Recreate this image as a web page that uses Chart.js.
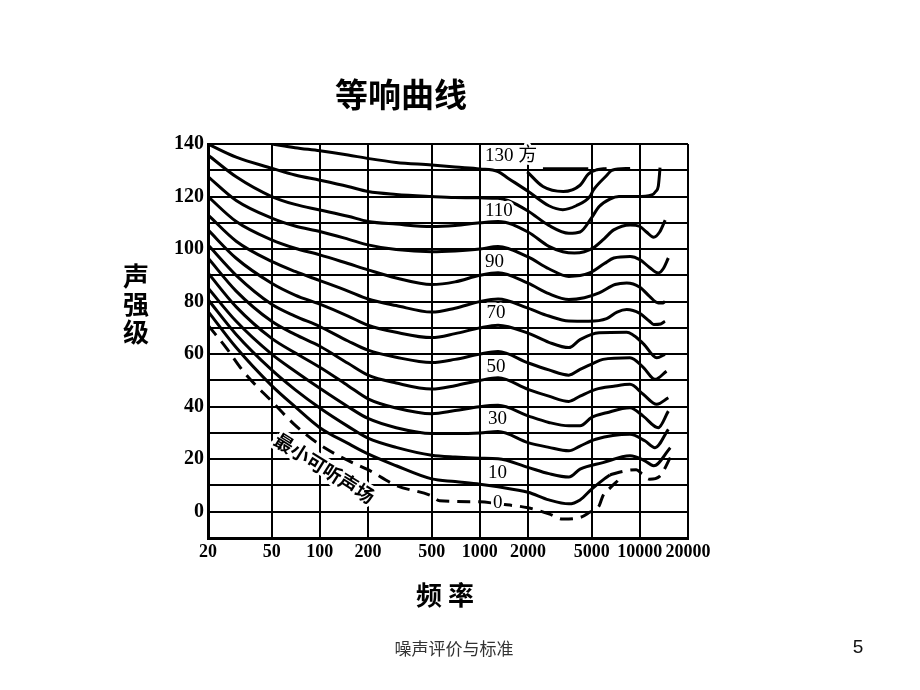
<!DOCTYPE html>
<html>
<head>
<meta charset="utf-8">
<script src="https://cdn.jsdelivr.net/npm/chart.js@4.4.1/dist/chart.umd.min.js"></script>
<style>
  body{margin:0;background:#fff;width:920px;height:690px;position:relative;overflow:hidden;}
  #box{position:absolute;left:0;top:0;width:920px;height:690px;}
  .txt{position:absolute;color:#000;white-space:nowrap;font-family:"Noto Sans CJK SC",sans-serif;transform:translate(-50%,-50%);}
  #titulo{left:401px;top:93px;font-size:33px;font-weight:bold;}
  #eixoY{left:136px;top:303px;font-size:26px;font-weight:bold;line-height:28px;text-align:center;}
  #eixoX{left:448px;top:593px;font-size:26px;font-weight:bold;letter-spacing:6px;}
  #rodape{left:454px;top:647px;font-size:17px;color:#333;}
  #pagina{left:858px;top:647px;font-size:19px;font-family:"Liberation Sans",sans-serif;color:#111;}
</style>
</head>
<body>
<div id="box"><canvas id="grafico" width="920" height="690"></canvas></div>
<div class="txt" id="titulo">等响曲线</div>
<div class="txt" id="eixoY">声<br>强<br>级</div>
<div class="txt" id="eixoX">频率</div>
<div class="txt" id="rodape">噪声评价与标准</div>
<div class="txt" id="pagina">5</div>

<script>
// ===== EIXOS =====
const xTicks = [20, 50, 100, 200, 500, 1000, 2000, 5000, 10000, 20000];
const yMin = -10, yMax = 140, yStep = 10;

// ===== CURVAS (frequência Hz / nível dB) =====
const fTop  = [1980, 2480, 3320, 4230, 4760, 5400, 6200];
const dbTop = [129.4, 123.8, 121.9, 124.3, 128.5, 130.2, 130.7];

const fLead  = [2480, 4760];
const dbLead = [130.8, 130.8];

const f130  = [50, 70, 100, 150, 200, 300, 500, 700, 1000, 1300, 1500, 2000, 2700, 3300, 4000, 4870, 5130, 6200, 6700, 8700];
const db130 = [140, 138.6, 137.4, 135.8, 134.5, 133, 132, 131.2, 130.5, 129.5, 127, 122, 116.5, 115, 116.5, 120, 122.5, 128, 130, 130.7];

const f120  = [20, 30, 50, 70, 100, 150, 200, 300, 500, 700, 1000, 1300, 1500, 2000, 2700, 3600, 4230, 5000, 5570, 6500, 7400, 9550, 11860, 12600, 13050, 13250, 13370];
const db120 = [140, 135, 130.8, 128.2, 126.2, 123.8, 121.9, 120.8, 120, 119.6, 119.5, 119.3, 118.5, 114.5, 109, 106, 106.5, 112, 116.2, 119, 120, 120, 120.6, 122, 124, 128, 131];

const f110  = [20, 30, 50, 70, 100, 150, 200, 300, 500, 700, 1000, 1300, 2000, 2700, 3300, 3900, 4500, 5130, 6000, 6870, 8700, 10000, 11000, 12200, 13300, 14400];
const db110 = [135.8, 127.5, 120, 117, 114.9, 112.5, 110.5, 109.5, 108.6, 109, 110, 110.5, 106.5, 101, 99, 98.5, 99, 100.5, 104, 107.3, 109.2, 108.6, 106.5, 104.5, 106.5, 111];

const f100  = [20, 30, 50, 70, 100, 150, 200, 300, 500, 700, 1000, 1300, 2000, 2700, 3600, 4850, 6000, 6870, 8700, 10000, 11500, 13040, 14000, 15070];
const db100 = [127.6, 118.5, 111.8, 108.8, 106.7, 103.8, 101.6, 99.8, 99, 99.3, 100, 101, 97, 92.5, 89.6, 90.9, 94.5, 96.6, 97.2, 96, 93, 90.9, 92.5, 96.6];

const f90  = [20, 30, 50, 70, 100, 150, 200, 300, 500, 700, 1000, 1300, 2000, 2700, 3600, 4500, 5570, 7000, 8280, 10000, 11500, 13040, 14000, 14360];
const db90 = [120, 110.5, 103.5, 100.3, 97.8, 94.5, 92.1, 89, 86.5, 87.5, 90, 91, 87, 83, 80.8, 81.5, 83.3, 86.5, 87.1, 85.5, 82, 79.5, 79.5, 80.1];

const f80  = [20, 30, 50, 70, 100, 150, 200, 300, 500, 700, 1000, 1300, 2000, 2700, 3600, 4800, 6200, 7200, 8280, 10000, 11500, 12200, 13500, 14360];
const db80 = [113, 103, 95.3, 91.5, 88, 84, 81, 78.5, 76, 77.5, 80, 81, 77.5, 74.5, 72.6, 72.5, 73.5, 76, 77, 75.5, 72.5, 71.3, 71.5, 72.5];

const f70  = [20, 30, 50, 70, 100, 150, 200, 300, 500, 700, 1000, 1300, 2000, 2700, 3600, 4230, 5570, 8280, 10500, 12750, 14360];
const db70 = [107.3, 96.5, 87, 82.5, 79, 74.5, 71, 68.3, 66.3, 67.8, 70, 71, 68, 64.5, 62.5, 65.5, 68.1, 68.3, 64, 58.6, 59.9];

const f60  = [20, 30, 50, 70, 100, 150, 200, 300, 500, 700, 1000, 1300, 2000, 2700, 3600, 4230, 5000, 5880, 8680, 10500, 12440, 14680];
const db60 = [101.6, 90, 79, 74.5, 70.5, 65, 61.5, 58.8, 56.8, 58, 60, 61, 56.7, 54, 52, 54.2, 56.2, 58, 58.6, 55, 50.4, 53.5];

const f50  = [20, 30, 50, 70, 100, 150, 200, 300, 500, 700, 1000, 1300, 2000, 2700, 3600, 4230, 5300, 6870, 8680, 10500, 12750, 15070];
const db50 = [96.6, 84, 72.5, 67.5, 63, 56.5, 52, 49, 46.7, 48, 50, 51, 46.6, 44, 42, 44, 46.6, 47.8, 48.5, 44.7, 40.9, 43.4];

const f40  = [20, 30, 50, 70, 100, 150, 200, 300, 500, 700, 1000, 1300, 2000, 2700, 3600, 4230, 5000, 6200, 8680, 10500, 13040, 15070];
const db40 = [90.9, 78, 66, 60.5, 55, 48, 43, 39.5, 37.3, 38.5, 40, 40.5, 36.5, 34, 32.7, 32.7, 35.9, 37.7, 39.6, 36.4, 32, 38.3];

const f30  = [20, 30, 50, 70, 100, 150, 200, 300, 500, 700, 1000, 1300, 2000, 2700, 3600, 4230, 5300, 8680, 10750, 12440, 15070];
const db30 = [85.2, 72.5, 60, 53.5, 47, 40, 35.5, 32, 29.8, 29.8, 30, 30.5, 26.3, 24.5, 23.2, 25, 27.6, 29.5, 27, 24.4, 31.4];

const f20  = [20, 30, 50, 70, 100, 150, 200, 300, 500, 700, 1000, 1300, 2000, 2700, 3600, 4230, 5880, 8680, 10750, 12200, 15500];
const db20 = [80.8, 67.5, 54, 46.5, 39.5, 32.5, 28, 24.5, 21.5, 20.8, 20.4, 20.2, 16.9, 14.5, 13.2, 16.2, 18.7, 21.3, 19.4, 17.5, 24.4];

const f10  = [20, 30, 50, 70, 100, 150, 200, 300, 500, 700, 1000, 1300, 2000, 2700, 3600, 4230, 5000, 6000, 6500];
const db10 = [76.3, 62.5, 48, 40, 32, 26, 22, 17.5, 12.5, 11.5, 10.5, 9.5, 7.4, 4.5, 3, 4.5, 8.6, 12.5, 14];

const f10b  = [6500, 8000, 9500, 10300, 11500, 13300, 15500];
const db10b = [14, 15.5, 16, 14.5, 12.4, 13.5, 20.6];

const f0  = [20, 26, 32.5, 40, 47.6, 70, 100, 150, 200, 300, 500, 560, 1000, 1300, 2000, 2700, 3300, 4230, 4850, 5570, 5880, 6500, 7270];
const db0 = [71, 62.4, 54.2, 48, 43.4, 33, 25.5, 19.5, 16, 10, 6, 4.2, 3.8, 3, 1.5, -0.8, -2.8, -2.2, -0.2, 2.3, 6.1, 9, 11.8];

const solidas = [
  [fTop, dbTop], [f130, db130], [f120, db120], [f110, db110], [f100, db100],
  [f90, db90], [f80, db80], [f70, db70], [f60, db60], [f50, db50],
  [f40, db40], [f30, db30], [f20, db20], [f10, db10]
];
const tracejadas = [[f0, db0], [f10b, db10b]];

// ===== ROTULOS DAS CURVAS =====
const rotTexto = ["130 方", "110", "90", "70", "50", "30", "10", "0"];
const rotFreq  = [1077, 1077, 1077, 1100, 1100, 1125, 1125, 1209];
const rotDb    = [135.5, 114.5, 95, 75.6, 55.1, 35.2, 14.7, 3.3];

const limiar = "最小可听声场";
const limiarFreq = 107, limiarDb = 16.6, limiarAng = 32;

function pontos(fs, dbs){
  return fs.map((f, i) => ({x: f, y: dbs[i]}));
}

const datasets = [];
solidas.forEach(([fs, dbs]) => datasets.push({
  data: pontos(fs, dbs), showLine: true, borderColor: "#000", borderWidth: 3,
  pointRadius: 0, cubicInterpolationMode: "monotone", fill: false
}));
tracejadas.forEach(([fs, dbs]) => datasets.push({
  data: pontos(fs, dbs), showLine: true, borderColor: "#000", borderWidth: 3,
  borderDash: [13, 8], pointRadius: 0, cubicInterpolationMode: "monotone", fill: false
}));
datasets.push({
  data: pontos(fLead, dbLead), showLine: true, borderColor: "#000", borderWidth: 2,
  pointRadius: 0, tension: 0, fill: false
});

// ===== TEXTO SOBRE O GRAFICO =====
const textoCurvas = {
  id: "textoCurvas",
  afterDatasetsDraw(chart){
    const ctx = chart.ctx, x = chart.scales.x, y = chart.scales.y;
    ctx.save();
    ctx.font = '19px "Liberation Serif", "Noto Sans CJK SC", serif';
    ctx.textAlign = "left";
    ctx.textBaseline = "middle";
    ctx.lineJoin = "round";
    rotTexto.forEach((t, i) => {
      const px = x.getPixelForValue(rotFreq[i]);
      const py = y.getPixelForValue(rotDb[i]);
      ctx.strokeStyle = "#fff";
      ctx.lineWidth = 5;
      ctx.strokeText(t, px, py);
      ctx.fillStyle = "#000";
      ctx.fillText(t, px, py);
    });

    ctx.translate(x.getPixelForValue(limiarFreq), y.getPixelForValue(limiarDb));
    ctx.rotate(limiarAng * Math.PI / 180);
    ctx.font = 'bold 19px "Noto Sans CJK SC", sans-serif';
    ctx.textAlign = "center";
    ctx.strokeStyle = "#fff";
    ctx.lineWidth = 6;
    ctx.strokeText(limiar, 0, 0);
    ctx.fillStyle = "#000";
    ctx.fillText(limiar, 0, 0);
    ctx.restore();
  }
};

new Chart(document.getElementById("grafico"), {
  type: "scatter",
  data: { datasets },
  options: {
    responsive: false,
    animation: false,
    events: [],
    layout: { padding: { left: 156, right: 232, top: 144, bottom: 122 } },
    plugins: { legend: { display: false }, tooltip: { enabled: false } },
    scales: {
      x: {
        type: "logarithmic",
        min: 20,
        max: 20000,
        afterBuildTicks(s){ s.ticks = xTicks.map(v => ({ value: v })); },
        afterFit(s){ s.height = 30; },
        ticks: {
          autoSkip: false, maxRotation: 0, padding: 4, color: "#000",
          font: { family: '"Liberation Serif", serif', size: 18, weight: "bold" },
          callback: v => String(v)
        },
        grid: { color: "#000", lineWidth: 2, drawTicks: false },
        border: { color: "#000", width: 3 }
      },
      y: {
        type: "linear",
        min: yMin,
        max: yMax,
        afterFit(s){ s.width = 52; },
        ticks: {
          stepSize: yStep, autoSkip: false, padding: 4, color: "#000",
          font: { family: '"Liberation Serif", serif', size: 20, weight: "bold" },
          callback: v => (v >= 0 && v % 20 === 0) ? String(v) : ""
        },
        grid: { color: "#000", lineWidth: 2, drawTicks: false },
        border: { color: "#000", width: 3 }
      }
    }
  },
  plugins: [textoCurvas]
});
</script>
</body>
</html>
